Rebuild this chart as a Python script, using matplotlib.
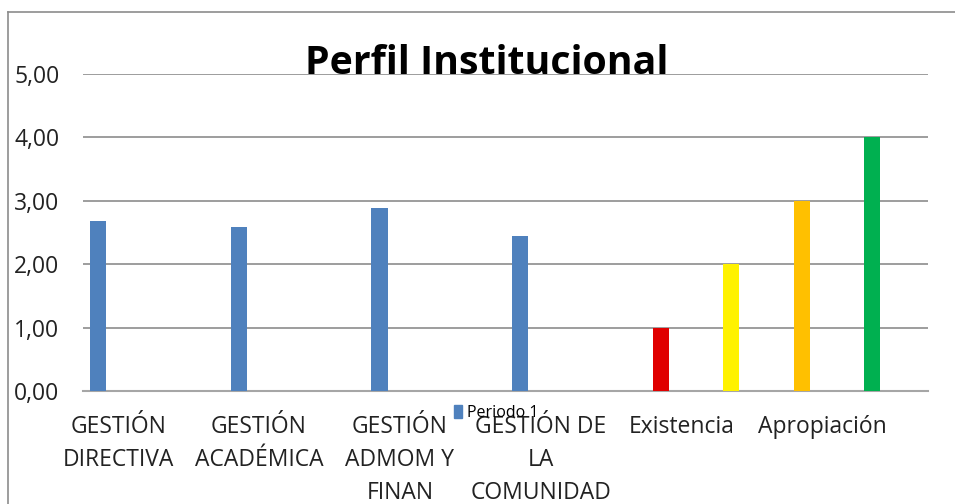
import matplotlib.pyplot as plt
import numpy as np
from matplotlib.lines import Line2D
from matplotlib.patches import Patch

categories = [
    "GESTIÓN\nDIRECTIVA",
    "GESTIÓN\nACADÉMICA",
    "GESTIÓN\nADMOM Y\nFINAN",
    "GESTIÓN DE\nLA\nCOMUNIDAD",
    "Existencia",
    "Apropiación",
]
periodo1 = [2.68, 2.58, 2.89, 2.44]
scale_values = [1, 2, 3, 4]
scale_category = [4, 4, 5, 5]
scale_slot = [0, 1, 0, 1]
scale_colors = ["#e00000", "#fff200", "#ffc000", "#00b050"]
yticks = [0, 1, 2, 3, 4, 5]

W, H = 955, 504
fig = plt.figure(figsize=(W / 100, H / 100), dpi=100)
ax = fig.add_axes([83 / W, (H - 391) / H, (928 - 83) / W, (391 - 74) / H])

font = "Open Sans"

# each category spans [i, i+1]; two bar slots per category
slot_offset = [0.105, 0.6]
bar_w = 0.115

idx = np.arange(len(periodo1))
ax.bar(idx + slot_offset[0], periodo1, width=bar_w, color="#4f81bd", zorder=3)
for cat, slot, val, col in zip(scale_category, scale_slot, scale_values, scale_colors):
    ax.bar(cat + slot_offset[slot], val, width=bar_w, color=col, zorder=3)

ax.set_xlim(0, len(categories))
ax.set_ylim(0, 5)
ax.set_yticks(yticks)
ax.set_yticklabels([f"{v:.2f}".replace(".", ",") for v in yticks], fontsize=16.5, color="#222222", family=font)
ax.set_xticks(np.arange(len(categories)) + 0.25)
ax.set_xticklabels(categories, fontsize=16.5, color="#222222", family=font, linespacing=1.5, va="top")
ax.tick_params(length=0)
ax.tick_params(axis="y", pad=17)
ax.tick_params(axis="x", pad=17)

ax.grid(axis="y", color="#8c8c8c", linewidth=1.2, zorder=0)
for s in ["top", "right", "left"]:
    ax.spines[s].set_visible(False)
ax.spines["bottom"].set_color("#a6a6a6")
ax.spines["bottom"].set_linewidth(1.5)

fig.legend(
    handles=[Patch(color="#4f81bd", label="Periodo 1")],
    loc="center left",
    bbox_to_anchor=(440 / W, (H - 413) / H),
    frameon=False,
    handlelength=0.5,
    handleheight=0.8,
    handletextpad=0.3,
    prop={"family": font, "size": 11.5},
)

fig.text(487 / W, (H - 63) / H, "Perfil Institucional", ha="center", va="center",
         fontsize=28.3, fontweight="bold", family=font)

# outer chart frame
fig.add_artist(Line2D([8 / W, 8 / W], [0, (H - 12) / H], color="#8c8c8c", lw=1.2))
fig.add_artist(Line2D([8 / W, 1], [(H - 12) / H, (H - 12) / H], color="#8c8c8c", lw=1.2))

fig.savefig("out.png", dpi=100)
